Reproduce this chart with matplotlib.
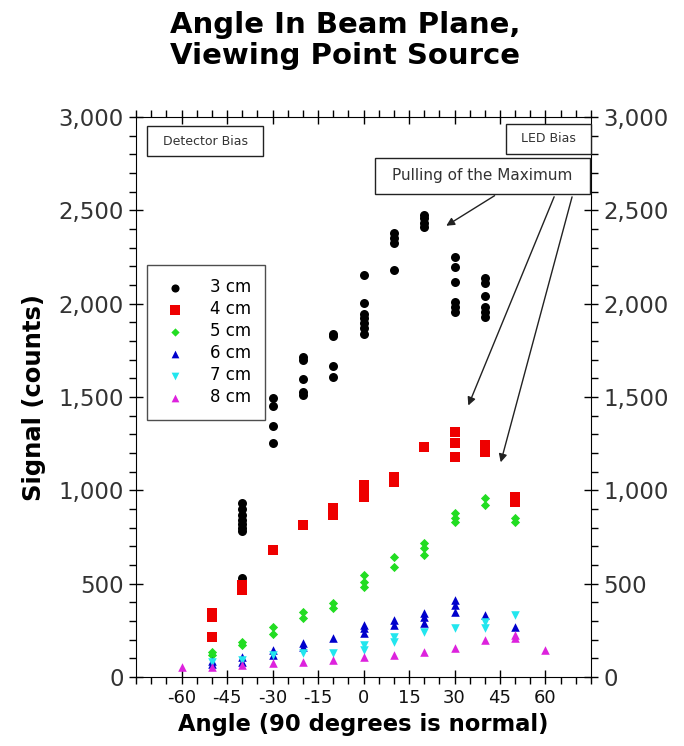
import matplotlib
matplotlib.use("Agg")
import matplotlib.pyplot as plt
from matplotlib.patches import Rectangle
from matplotlib.ticker import MultipleLocator, FuncFormatter

plt.rcParams["axes.unicode_minus"] = False

# Measured signal vs. viewing angle for each source distance
angles_3cm = [-40]*9 + [-30]*4 + [-20]*5 + [-10]*4 + [0]*7 + [10]*4 + [20]*4 + [30]*6 + [40]*6
signal_3cm = [930, 900, 870, 840, 820, 800, 780, 530, 510,
              1495, 1450, 1345, 1254,
              1714, 1698, 1596, 1527, 1511,
              1837, 1827, 1666, 1607,
              2153, 2003, 1945, 1923, 1896, 1870, 1837,
              2378, 2352, 2325, 2180,
              2475, 2459, 2432, 2411,
              2250, 2196, 2116, 2009, 1982, 1955,
              2137, 2110, 2041, 1982, 1955, 1928]

angles_4cm = [-50, -50, -50, -40, -40, -30, -20, -10, -10, 0, 0, 0, 10, 10, 20, 30, 30, 30, 40, 40, 50, 50]
signal_4cm = [343, 321, 214, 493, 466, 680, 814, 905, 868, 1028, 1002, 964, 1071, 1045, 1232,
              1312, 1254, 1178, 1243, 1205, 964, 937]

angles_5cm = [-50, -50, -40, -40, -30, -30, -20, -20, -10, -10, 0, 0, 0, 10, 10, 20, 20, 20,
              30, 30, 30, 40, 40, 50, 50]
signal_5cm = [134, 118, 187, 171, 268, 230, 348, 316, 396, 370, 546, 509, 482, 643, 589,
              718, 691, 654, 878, 852, 830, 959, 921, 852, 830]

angles_6cm = [-50, -50, -40, -40, -30, -30, -20, -20, -10, 0, 0, 0, 10, 10, 20, 20, 20,
              30, 30, 30, 40, 50]
signal_6cm = [85, 70, 107, 80, 145, 118, 182, 161, 209, 279, 262, 236, 305, 279, 343, 321, 289,
              412, 386, 348, 332, 268]

angles_7cm = [-50, -40, -30, -20, -10, 0, 0, 10, 10, 20, 30, 40, 40, 50]
signal_7cm = [80, 91, 118, 129, 129, 171, 145, 214, 187, 241, 262, 295, 262, 332]

angles_8cm = [-60, -50, -40, -30, -20, -10, 0, 10, 20, 30, 40, 50, 50, 60]
signal_8cm = [54, 54, 64, 75, 80, 91, 107, 118, 134, 155, 198, 225, 209, 145]

series_labels = ["3 cm", "4 cm", "5 cm", "6 cm", "7 cm", "8 cm"]
series_angles = [angles_3cm, angles_4cm, angles_5cm, angles_6cm, angles_7cm, angles_8cm]
series_signal = [signal_3cm, signal_4cm, signal_5cm, signal_6cm, signal_7cm, signal_8cm]
series_colors = ["#000000", "#ee0000", "#22dd22", "#0000cc", "#22e6ee", "#dd22dd"]
series_markers = ["o", "s", "D", "^", "v", "^"]
series_sizes = [42, 55, 22, 38, 38, 38]

x_ticks = [-60, -45, -30, -15, 0, 15, 30, 45, 60]
y_ticks = [0, 500, 1000, 1500, 2000, 2500, 3000]

fig = plt.figure(figsize=(6.84, 7.46), dpi=100)
ax = fig.add_axes([0.199, 0.0925, 0.665, 0.7505])

for lab, xs, ys, c, m, s in zip(series_labels, series_angles, series_signal,
                                series_colors, series_markers, series_sizes):
    ax.scatter(xs, ys, s=s, c=c, marker=m, label=lab, linewidths=0, zorder=3)

ax.set_xlim(-75, 75)
ax.set_ylim(0, 3000)
ax.set_xticks(x_ticks)
ax.set_yticks(y_ticks)
ax.xaxis.set_minor_locator(MultipleLocator(5))
ax.yaxis.set_minor_locator(MultipleLocator(100))
ax.yaxis.set_major_formatter(FuncFormatter(lambda v, p: f"{int(v):,}"))

ax.tick_params(axis="both", which="major", direction="inout", length=10, width=1,
               top=True, right=True)
ax.tick_params(axis="both", which="minor", direction="out", length=5, width=1,
               top=True, right=True)
ax.tick_params(axis="y", which="both", labelleft=True, labelright=True,
               labelsize=16.5, labelcolor="#333333", pad=4)
ax.tick_params(axis="x", which="major", labelsize=13, labelcolor="#111111", pad=4)

ax.set_xlabel("Angle (90 degrees is normal)", fontsize=16.3, fontweight="bold", labelpad=4)
ax.set_ylabel("Signal (counts)", fontsize=17.5, fontweight="bold", labelpad=9)
fig.suptitle("Angle In Beam Plane,\nViewing Point Source", fontsize=21,
             fontweight="bold", x=0.505, y=0.985, linespacing=1.12)

leg = ax.legend(loc="upper left", bbox_to_anchor=(0.024, 0.736), fontsize=12,
                frameon=True, fancybox=False, edgecolor="#222222", borderpad=0.8,
                handletextpad=1.2, handlelength=1.8, labelspacing=0.24, markerscale=0.9,
                borderaxespad=0)
leg.get_frame().set_linewidth(1.0)

# annotation boxes (axes coordinates)
boxes = [
    ((0.024, 0.930), 0.255, 0.054, "Detector Bias", 9.0, (0.152, 0.957)),
    ((0.813, 0.934), 0.187, 0.0535, "LED Bias", 9.0, (0.906, 0.961)),
    ((0.525, 0.8625), 0.473, 0.0645, "Pulling of the Maximum", 11.0, (0.761, 0.895)),
]
for (x0, y0), w, h, txt, fs, (tx, ty) in boxes:
    ax.add_patch(Rectangle((x0, y0), w, h, transform=ax.transAxes, fc="white",
                           ec="#222222", lw=1.0, zorder=5, clip_on=False))
    ax.text(tx, ty, txt, transform=ax.transAxes, fontsize=fs, ha="center",
            va="center", color="#333333", zorder=6)

arrow = dict(arrowstyle="-|>", color="#222222", lw=1.0, mutation_scale=12)
ax.annotate("", xy=(26.5, 2410), xytext=(44, 2587), arrowprops=arrow, zorder=4)
ax.annotate("", xy=(34.2, 1441), xytext=(63.2, 2587), arrowprops=arrow, zorder=4)
ax.annotate("", xy=(45, 1136), xytext=(69, 2587), arrowprops=arrow, zorder=4)

fig.savefig("out.png", dpi=100)
